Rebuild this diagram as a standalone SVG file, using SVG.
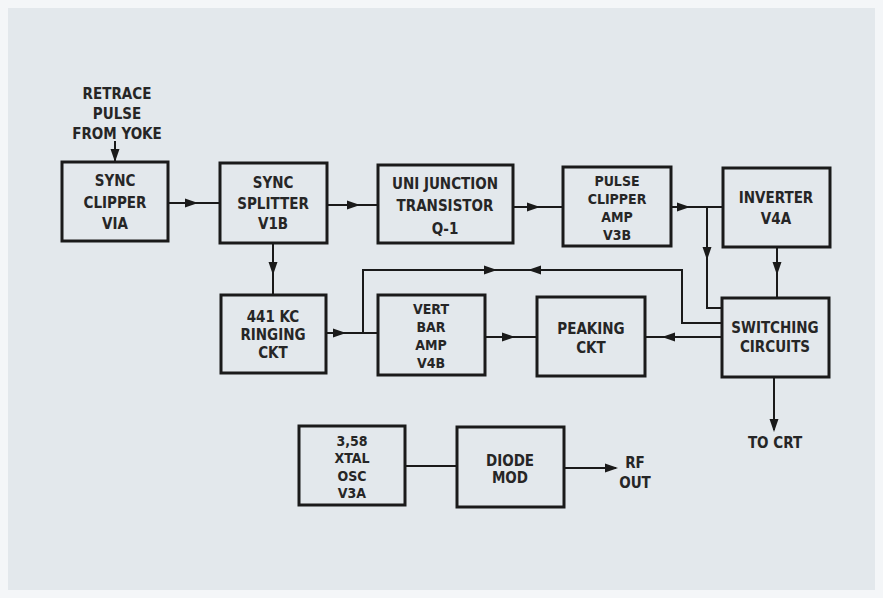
<svg xmlns="http://www.w3.org/2000/svg" xmlns:xlink="http://www.w3.org/1999/xlink" width="883" height="598" viewBox="0 0 883 598">
<style>
.box{fill:none;stroke:#1a1a1a;stroke-width:3}
.ln{fill:none;stroke:#1a1a1a;stroke-width:2}
.t{font-family:"DejaVu Sans Condensed","DejaVu Sans",sans-serif;font-stretch:condensed;font-weight:bold;font-size:15px;fill:#262626;text-anchor:middle}
.s{font-size:14px}
.ah{fill:#1a1a1a}
</style>
<defs>
<path id="ah" d="M0,0 L-13,-4.5 L-13,4.5 Z"/>
</defs>
<rect width="883" height="598" fill="#f4f6f8"/>
<rect x="8" y="8" width="867" height="582" fill="#e3e8ec"/>

<g id="connectors">
<line class="ln" x1="115" y1="141" x2="115" y2="162"/>
<line class="ln" x1="168" y1="203" x2="220" y2="203"/>
<line class="ln" x1="327" y1="205" x2="378" y2="205"/>
<line class="ln" x1="513" y1="207" x2="563" y2="207"/>
<line class="ln" x1="671" y1="207" x2="723" y2="207"/>
<polyline class="ln" points="707,207 707,308 722,308"/>
<line class="ln" x1="777" y1="247" x2="777" y2="298"/>
<line class="ln" x1="273" y1="243" x2="273" y2="295"/>
<line class="ln" x1="326" y1="333" x2="378" y2="333"/>
<polyline class="ln" points="363,333 363,270 682,270 682,323 722,323"/>
<line class="ln" x1="485" y1="337" x2="537" y2="337"/>
<line class="ln" x1="645" y1="337" x2="722" y2="337"/>
<line class="ln" x1="774" y1="377" x2="774" y2="430"/>
<line class="ln" x1="405" y1="466" x2="457" y2="466"/>
<line class="ln" x1="564" y1="468" x2="616" y2="468"/>
<g class="ah">
<use xlink:href="#ah" transform="translate(115,162) rotate(90)"/>
<use xlink:href="#ah" transform="translate(198,203)"/>
<use xlink:href="#ah" transform="translate(360,205)"/>
<use xlink:href="#ah" transform="translate(540,207)"/>
<use xlink:href="#ah" transform="translate(690,207)"/>
<use xlink:href="#ah" transform="translate(707,260) rotate(90)"/>
<use xlink:href="#ah" transform="translate(777,275) rotate(90)"/>
<use xlink:href="#ah" transform="translate(273,275) rotate(90)"/>
<use xlink:href="#ah" transform="translate(346,333)"/>
<use xlink:href="#ah" transform="translate(497,270)"/>
<use xlink:href="#ah" transform="translate(528,270) rotate(180)"/>
<use xlink:href="#ah" transform="translate(515,337)"/>
<use xlink:href="#ah" transform="translate(662,337) rotate(180)"/>
<use xlink:href="#ah" transform="translate(774,432) rotate(90)"/>
<use xlink:href="#ah" transform="translate(618,468)"/>
</g>
</g>

<g id="retrace">
<text class="t" x="117" y="99">RETRACE</text>
<text class="t" x="117" y="119">PULSE</text>
<text class="t" x="117" y="139">FROM YOKE</text>
</g>

<g id="sync-clipper">
<rect class="box" x="62" y="162" width="106" height="79"/>
<text class="t" x="115" y="186">SYNC</text>
<text class="t" x="115" y="208">CLIPPER</text>
<text class="t" x="115" y="229">VIA</text>
</g>

<g id="sync-splitter">
<rect class="box" x="220" y="163" width="107" height="80"/>
<text class="t" x="273" y="188">SYNC</text>
<text class="t" x="273" y="209">SPLITTER</text>
<text class="t" x="273" y="229">V1B</text>
</g>

<g id="ujt">
<rect class="box" x="378" y="165" width="135" height="78"/>
<text class="t" x="445" y="189">UNI JUNCTION</text>
<text class="t" x="445" y="211">TRANSISTOR</text>
<text class="t" x="445" y="234">Q-1</text>
</g>

<g id="pulse-clipper">
<rect class="box" x="563" y="167" width="108" height="79"/>
<text class="t s" x="617" y="186">PULSE</text>
<text class="t s" x="617" y="204">CLIPPER</text>
<text class="t s" x="617" y="222">AMP</text>
<text class="t s" x="617" y="240">V3B</text>
</g>

<g id="inverter">
<rect class="box" x="723" y="168" width="107" height="79"/>
<text class="t" x="776" y="203">INVERTER</text>
<text class="t" x="776" y="224">V4A</text>
</g>

<g id="ringing">
<rect class="box" x="221" y="295" width="105" height="78"/>
<text class="t" x="273" y="322">441 KC</text>
<text class="t" x="273" y="340">RINGING</text>
<text class="t" x="273" y="358">CKT</text>
</g>

<g id="vert-bar">
<rect class="box" x="378" y="295" width="107" height="80"/>
<text class="t s" x="431" y="314">VERT</text>
<text class="t s" x="431" y="332">BAR</text>
<text class="t s" x="431" y="350">AMP</text>
<text class="t s" x="431" y="368">V4B</text>
</g>

<g id="peaking">
<rect class="box" x="537" y="297" width="108" height="79"/>
<text class="t" x="591" y="334">PEAKING</text>
<text class="t" x="591" y="353">CKT</text>
</g>

<g id="switching">
<rect class="box" x="722" y="298" width="107" height="79"/>
<text class="t" x="775" y="333">SWITCHING</text>
<text class="t" x="775" y="352">CIRCUITS</text>
</g>

<g id="to-crt">
<text class="t" x="775" y="448">TO CRT</text>
</g>

<g id="xtal-osc">
<rect class="box" x="299" y="426" width="106" height="79"/>
<text class="t s" x="352" y="446">3,58</text>
<text class="t s" x="352" y="463">XTAL</text>
<text class="t s" x="352" y="481">OSC</text>
<text class="t s" x="352" y="498">V3A</text>
</g>

<g id="diode-mod">
<rect class="box" x="457" y="427" width="107" height="80"/>
<text class="t" x="510" y="466">DIODE</text>
<text class="t" x="510" y="483">MOD</text>
</g>

<g id="rf-out">
<text class="t" x="635" y="468">RF</text>
<text class="t" x="635" y="488">OUT</text>
</g>
</svg>
